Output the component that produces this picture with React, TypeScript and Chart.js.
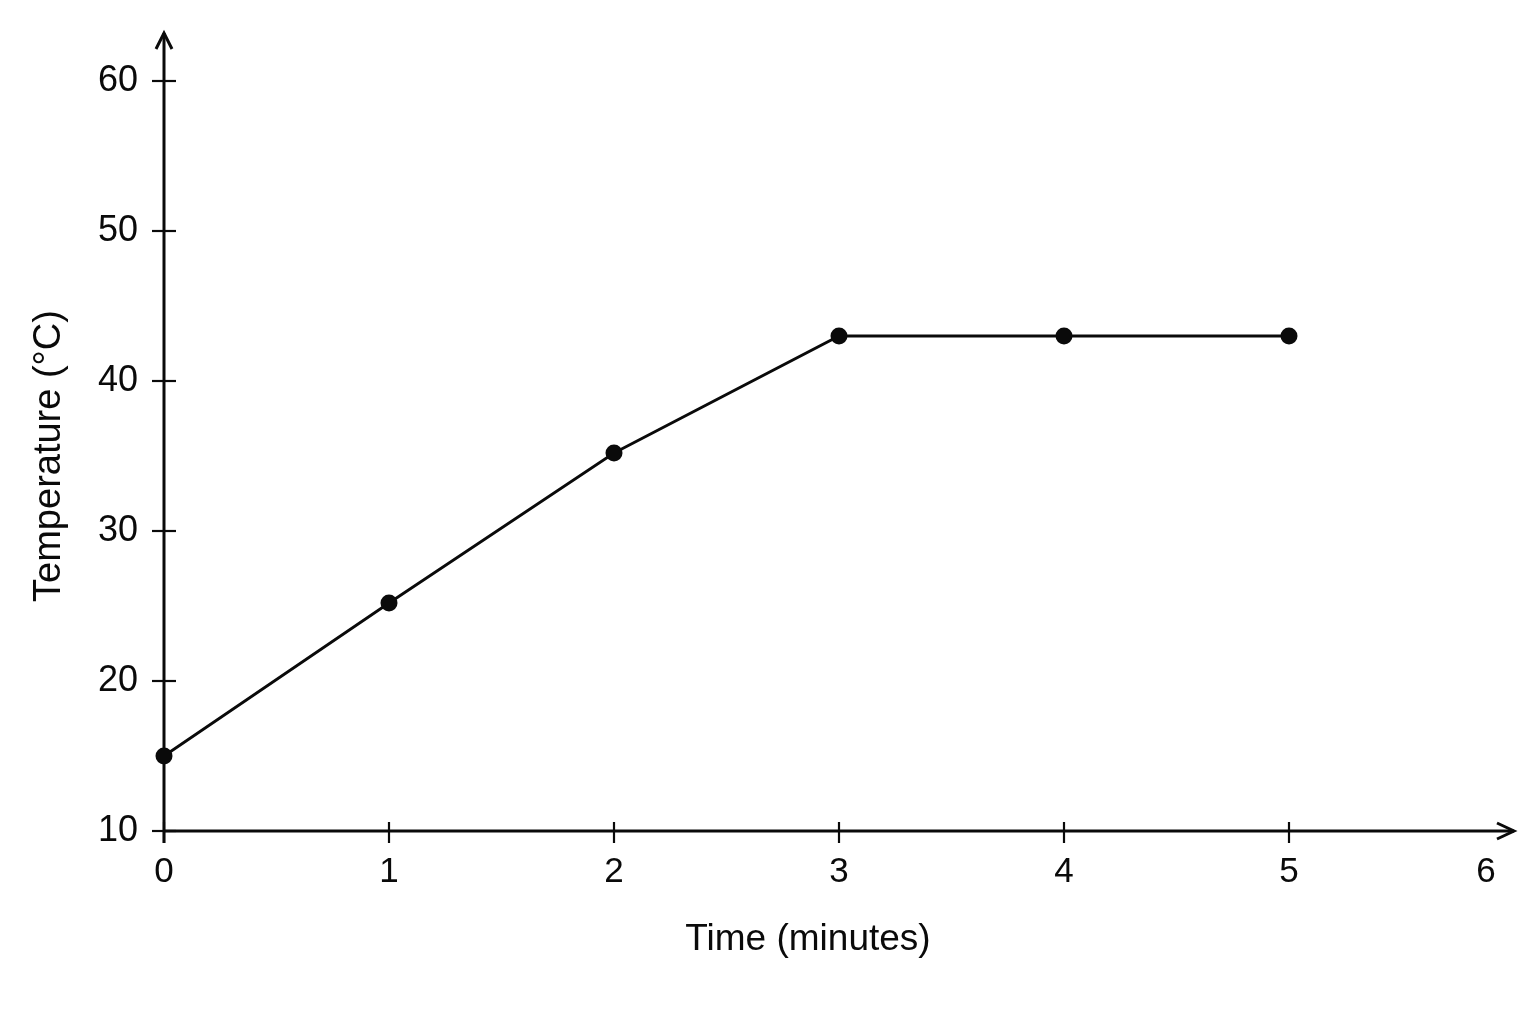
import { useEffect, useRef } from 'react'
import { Chart, registerables } from 'chart.js'

Chart.register(...registerables)

// data
const timeMinutes = [0, 1, 2, 3, 4, 5]
const temperatureC = [15, 25.2, 35.2, 43, 43, 43]
const xTickValues = [0, 1, 2, 3, 4, 5, 6]
const yTickValues = [10, 20, 30, 40, 50, 60]
const xAxisTitle = 'Time (minutes)'
const yAxisTitle = 'Temperature (°C)'

const INK = '#0a0a0a'
const FONT = '"Liberation Sans", Arial, sans-serif'
const X_MAX = 6

// axes with open arrow heads, ticks that cross the axis line, and the x title
const axesPlugin = {
  id: 'axesWithArrows',
  beforeDatasetsDraw(chart: Chart) {
    const { ctx, chartArea, scales } = chart
    const x0 = chartArea.left
    const y0 = chartArea.bottom
    ctx.save()
    ctx.strokeStyle = INK
    ctx.lineWidth = 3
    ctx.lineCap = 'butt'

    // y axis
    const yTip = 33
    ctx.beginPath()
    ctx.moveTo(x0, y0 + 12)
    ctx.lineTo(x0, yTip)
    ctx.stroke()
    ctx.beginPath()
    ctx.moveTo(x0 - 8, yTip + 16)
    ctx.lineTo(x0, yTip)
    ctx.lineTo(x0 + 8, yTip + 16)
    ctx.stroke()

    // x axis
    const xTip = chartArea.right
    ctx.beginPath()
    ctx.moveTo(x0, y0)
    ctx.lineTo(xTip, y0)
    ctx.stroke()
    ctx.beginPath()
    ctx.moveTo(xTip - 17, y0 - 8)
    ctx.lineTo(xTip, y0)
    ctx.lineTo(xTip - 17, y0 + 8)
    ctx.stroke()

    ctx.lineWidth = 2.2
    yTickValues.forEach(v => {
      const py = scales.y.getPixelForValue(v)
      ctx.beginPath()
      ctx.moveTo(x0 - 12, py)
      ctx.lineTo(x0 + 12, py)
      ctx.stroke()
    })
    xTickValues.filter(v => v < X_MAX).forEach(v => {
      const px = scales.x.getPixelForValue(v)
      ctx.beginPath()
      ctx.moveTo(px, y0 - 9)
      ctx.lineTo(px, y0 + 12)
      ctx.stroke()
    })

    ctx.fillStyle = INK
    ctx.textAlign = 'center'
    ctx.textBaseline = 'middle'
    // the last x label has no tick and sits left of the arrow tip
    ctx.font = `35px ${FONT}`
    ctx.fillText(String(X_MAX), scales.x.getPixelForValue(X_MAX) - 28, y0 + 41)
    // x title sits a little left of the plot centre in the reference
    ctx.font = `37px ${FONT}`
    ctx.fillText(xAxisTitle, x0 + 644, 940)
    ctx.restore()
  }
}

export default function App() {
  const canvasRef = useRef<HTMLCanvasElement>(null)
  const chartRef = useRef<Chart | null>(null)

  useEffect(() => {
    if (!canvasRef.current) return
    if (chartRef.current) chartRef.current.destroy()

    chartRef.current = new Chart(canvasRef.current, {
      type: 'line',
      data: {
        datasets: [
          {
            data: timeMinutes.map((t, i) => ({ x: t, y: temperatureC[i] })),
            borderColor: INK,
            borderWidth: 2.8,
            backgroundColor: INK,
            pointBackgroundColor: INK,
            pointBorderColor: INK,
            pointRadius: 8.5,
            pointBorderWidth: 0,
            tension: 0,
            clip: false
          }
        ]
      },
      options: {
        animation: false,
        responsive: true,
        maintainAspectRatio: false,
        layout: { padding: { top: 81, right: 22, bottom: 0, left: 0 } },
        plugins: {
          legend: { display: false },
          tooltip: { enabled: false }
        },
        scales: {
          x: {
            type: 'linear',
            min: 0,
            max: X_MAX,
            afterFit: (scale: any) => { scale.height = 193 },
            afterBuildTicks: (scale: any) => {
              scale.ticks = xTickValues.map(v => ({ value: v }))
            },
            grid: { display: false, drawTicks: false },
            border: { display: false },
            ticks: {
              padding: 20,
              color: INK,
              font: { family: FONT, size: 35 },
              callback: (v: any) => (v === X_MAX ? '' : String(v))
            },
            title: { display: false }
          },
          y: {
            type: 'linear',
            min: 10,
            max: 60,
            afterFit: (scale: any) => { scale.width = 164 },
            afterBuildTicks: (scale: any) => {
              scale.ticks = yTickValues.map(v => ({ value: v }))
            },
            grid: { display: false, drawTicks: false },
            border: { display: false },
            ticks: {
              padding: 26,
              color: INK,
              font: { family: FONT, size: 36 }
            },
            title: {
              display: true,
              text: yAxisTitle,
              color: INK,
              font: { family: FONT, size: 38 },
              padding: { top: 27, bottom: 0 }
            }
          }
        }
      },
      plugins: [axesPlugin]
    })

    return () => {
      if (chartRef.current) {
        chartRef.current.destroy()
        chartRef.current = null
      }
    }
  }, [])

  return (
    <div style={{ position: 'fixed', top: 0, left: 0, width: 1536, height: 1024, background: '#fff' }}>
      <canvas ref={canvasRef} style={{ width: '100%', height: '100%' }} />
    </div>
  )
}
